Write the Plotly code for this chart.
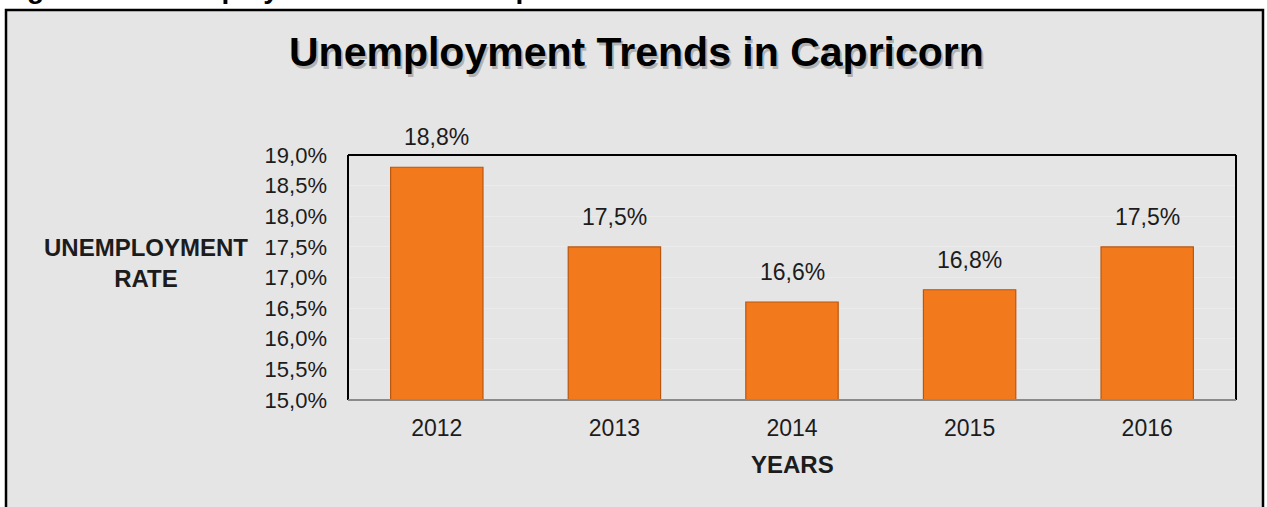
import plotly.graph_objects as go

# Unemployment rate in Capricorn District, per year (percent)
years = ["2012", "2013", "2014", "2015", "2016"]
rates = [18.8, 17.5, 16.6, 16.8, 17.5]
rate_labels = ["18,8%", "17,5%", "16,6%", "16,8%", "17,5%"]
y_ticks = [15.0, 15.5, 16.0, 16.5, 17.0, 17.5, 18.0, 18.5, 19.0]
y_tick_labels = ["15,0%", "15,5%", "16,0%", "16,5%", "17,0%",
                 "17,5%", "18,0%", "18,5%", "19,0%"]

W, H = 1267, 507
ML, MR, MT, MB = 348, 31, 155, 107
PW, PH = W - ML - MR, H - MT - MB


def px_x(px):
    """Page pixel x -> paper coordinate."""
    return (px - ML) / PW


def px_y(py):
    """Page pixel y (from top) -> paper coordinate."""
    return (H - MB - py) / PH


FONT = "Liberation Sans, Arial, sans-serif"
TXT = "#1c1c1c"

fig = go.Figure()
fig.add_trace(go.Bar(
    x=years,
    y=rates,
    marker=dict(color="#f37a1c", line=dict(color="#b95610", width=1.2)),
    width=0.52,
    hoverinfo="skip",
))

annotations = []
# value labels above each bar (category index on the x axis)
for i, (v, lab) in enumerate(zip(rates, rate_labels)):
    annotations.append(dict(
        x=i, y=v, xref="x", yref="y", text=lab, showarrow=False,
        yanchor="middle", yshift=30,
        font=dict(family=FONT, size=23, color=TXT),
    ))

# chart title with a soft drop shadow
title_txt = "<b>Unemployment Trends in Capricorn</b>"
annotations.append(dict(
    x=px_x(638), y=px_y(55), xref="paper", yref="paper", text=title_txt,
    showarrow=False, xanchor="center", yanchor="middle",
    font=dict(family=FONT, size=41, color="rgba(0,0,0,0.22)"),
))
annotations.append(dict(
    x=px_x(636), y=px_y(52), xref="paper", yref="paper", text=title_txt,
    showarrow=False, xanchor="center", yanchor="middle",
    font=dict(family=FONT, size=41, color="#000000"),
))

# document caption above the chart frame
annotations.append(dict(
    x=px_x(0), y=px_y(-12), xref="paper", yref="paper",
    text="<b>Figure 10: Unemployment trends in Capricorn District</b>",
    showarrow=False, xanchor="left", yanchor="middle",
    font=dict(family=FONT, size=28, color="#000000"),
))

# axis titles
annotations.append(dict(
    x=px_x(146), y=px_y(263), xref="paper", yref="paper",
    text="<b>UNEMPLOYMENT</b><br><b>RATE</b>",
    showarrow=False, xanchor="center", yanchor="middle", align="center",
    font=dict(family=FONT, size=24, color=TXT),
))
annotations.append(dict(
    x=px_x(792), y=px_y(464), xref="paper", yref="paper",
    text="<b>YEARS</b>", showarrow=False, xanchor="center", yanchor="middle",
    font=dict(family=FONT, size=24, color=TXT),
))

shapes = [
    # outer chart frame
    dict(type="rect", xref="paper", yref="paper", layer="below",
         x0=px_x(6), x1=px_x(1263), y0=px_y(530), y1=px_y(10),
         fillcolor="#e5e5e5", line=dict(color="#000000", width=2.5)),
    # plot area border
    dict(type="line", xref="paper", yref="paper", x0=0, x1=0, y0=0, y1=1,
         line=dict(color="#000000", width=2)),
    dict(type="line", xref="paper", yref="paper", x0=0, x1=1, y0=1, y1=1,
         line=dict(color="#000000", width=2)),
    dict(type="line", xref="paper", yref="paper", x0=1, x1=1, y0=0, y1=1,
         line=dict(color="#000000", width=2)),
    dict(type="line", xref="paper", yref="paper", x0=0, x1=1, y0=0, y1=0,
         line=dict(color="#8a8a8a", width=2)),
]

fig.update_layout(
    width=W, height=H,
    margin=dict(l=ML, r=MR, t=MT, b=MB, pad=0),
    paper_bgcolor="#ffffff",
    plot_bgcolor="#e5e5e5",
    showlegend=False,
    annotations=annotations,
    shapes=shapes,
    font=dict(family=FONT, color=TXT),
)
fig.update_yaxes(
    range=[15.0, 19.0], tickvals=y_ticks, ticktext=y_tick_labels,
    showgrid=True, gridcolor="#ebebeb", gridwidth=1, zeroline=False,
    showline=False, ticks="", ticklabelstandoff=20,
    tickfont=dict(family=FONT, size=22, color=TXT),
)
fig.update_xaxes(
    type="category", range=[-0.5, 4.5],
    showgrid=False, showline=False, ticks="", ticklabelstandoff=12,
    tickfont=dict(family=FONT, size=23, color=TXT),
)

fig.write_html("out.html")
